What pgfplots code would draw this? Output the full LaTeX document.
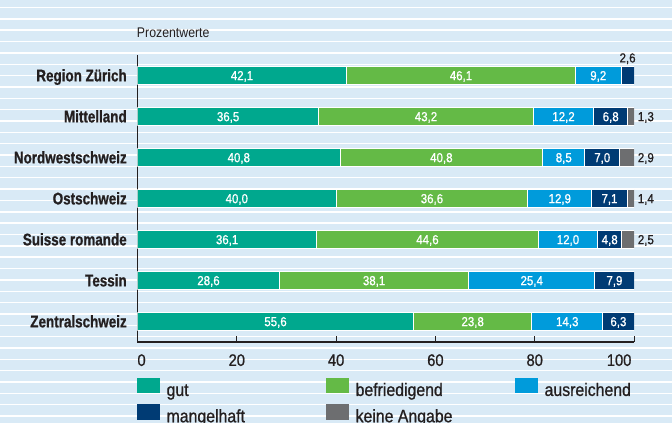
\documentclass[border=0pt]{standalone}
\usepackage{fontspec}
\setmainfont{Liberation Sans}[FakeStretch=0.88]
\newfontfamily\medfont{Liberation Sans}[FakeStretch=0.88, FakeBold=0.9]
\newfontfamily\catfont{Liberation Sans}[FakeStretch=0.8, BoldFeatures={FakeBold=0.8}]
\usepackage{pgfplots}
\pgfplotsset{compat=1.18}
\usepackage{pgfplotstable}

\definecolor{bg}{HTML}{D9EAF6}
\definecolor{ink}{HTML}{231F20}
\definecolor{cgut}{HTML}{00A88E}
\definecolor{cbef}{HTML}{64BA46}
\definecolor{caus}{HTML}{009BDB}
\definecolor{cman}{HTML}{003B74}
\definecolor{ckei}{HTML}{6D6E70}

% befl = printed label of "befriedigend" (the chart prints 36,6 on a 38,6 bar)
\pgfplotstableread{
idx gut  bef  befl aus  man kei
6   42.1 46.1 46.1 9.2  2.6 0
5   36.5 43.2 43.2 12.2 6.8 1.3
4   40.8 40.8 40.8 8.5  7.0 2.9
3   40.0 38.6 36.6 12.9 7.1 1.4
2   36.1 44.6 44.6 12.0 4.8 2.5
1   28.6 38.1 38.1 25.4 7.9 0
0   55.6 23.8 23.8 14.3 6.3 0
}\shares

% nodes near coords sit at the middle of each stacked segment
\tikzset{
  inlab/.style={anchor=base, yshift=-3.5pt, text=white,
    inner sep=0pt, font=\medfont\fontsize{9.8}{10}\selectfont},
}
\pgfplotsset{
  sq/.style={legend image code/.code={\fill[##1,draw=none] (0pt,-2pt) rectangle (17.25pt,9.75pt);}},
  seg/.style={fill=#1, draw=white, line width=0.75pt, sq},
}

\begin{document}
\begin{tikzpicture}
\useasboundingbox (0pt,0pt) rectangle (504pt,-317.25pt);
\fill[bg] (0pt,0pt) rectangle (504pt,-317.25pt);
\foreach \i in {0,...,36}{
  \fill[white] (0pt,{-(7.5+11.35*\i)*0.75pt+0.55pt}) rectangle (504pt,{-(7.5+11.35*\i)*0.75pt-0.55pt});
}
\node[anchor=base west, inner sep=0pt, text=ink, font=\fontsize{10.5}{12}\selectfont]
  at (102.5pt,-28pt) {Prozentwerte};

\begin{axis}[
  at={(103.125pt,-256.5pt)}, anchor=south west,
  x=3.724pt, y=30.75pt,
  xmin=0, xmax=100, ymin=-0.5, ymax=6.5,
  xbar stacked, bar width=13.1pt,
  axis x line*=bottom, axis y line*=left,
  axis line style={ink, line width=0.9pt},
  xtick={0,20,...,100},
  xticklabels={\makebox[0pt][l]{0},20,40,60,80,\makebox[0pt][r]{100\kern2pt}},
  xtick align=inside, major tick length=4.3pt,
  xtick style={ink, line width=0.75pt},
  ytick={0,...,6},
  yticklabels={Zentralschweiz,Tessin,Suisse romande,Ostschweiz,Nordwestschweiz,Mittelland,Region Zürich},
  ytick style={draw=none},
  tick label style={inner sep=0pt, text=ink},
  xticklabel style={font=\medfont\fontsize{12.5}{13}\selectfont, yshift=-9pt},
  yticklabel style={font=\catfont\bfseries\fontsize{12.6}{13}\selectfont, anchor=base east, xshift=-7.9pt, yshift=-4.4pt},
  /pgf/number format/.cd, use comma, fixed, fixed zerofill, precision=1, assume math mode=true,
  /pgfplots/.cd,
  legend columns=3,
  legend cell align=left,
  legend style={at={(0,0)}, anchor=north west, xshift=-0.6pt, yshift=-26.5pt,
    draw=none, fill=none, inner sep=0pt, row sep=4pt, text=ink,
    font=\medfont\fontsize{13.5}{14}\selectfont,
    nodes={inner sep=0pt, text height=10pt, text depth=2pt},
    /tikz/every odd column/.append style={column sep=5pt},
    /tikz/every even column/.append style={column sep=14.5pt}},
]
\addplot[seg=cgut,
  visualization depends on={rawx \as \val},
  nodes near coords={\pgfmathprintnumber{\val}},
  every node near coord/.style={inlab}]
  table[x=gut, y=idx] {\shares};
\addlegendentry{\makebox[105pt][l]{gut}}

\addplot[seg=cbef,
  point meta=explicit,
  nodes near coords={\pgfmathprintnumber{\pgfplotspointmeta}},
  every node near coord/.style={inlab}]
  table[x=bef, y=idx, meta=befl] {\shares};
\addlegendentry{\makebox[105pt][l]{befriedigend}}

\addplot[seg=caus,
  visualization depends on={rawx \as \val},
  nodes near coords={\pgfmathprintnumber{\val}},
  every node near coord/.style={inlab}]
  table[x=aus, y=idx] {\shares};
\addlegendentry{\makebox[105pt][l]{ausreichend}}

\addplot[seg=cman,
  visualization depends on={rawx \as \val},
  nodes near coords={\pgfmathprintnumber{\val}},
  every node near coord/.style={inlab,
    /utils/exec={\ifdim\val pt<3pt\pgfkeysalso{yshift=13.3pt,text=ink}\fi}}]
  table[x=man, y=idx] {\shares};
\addlegendentry{\makebox[105pt][l]{mangelhaft}}

\addplot[seg=ckei,
  visualization depends on={rawx \as \val},
  nodes near coords={\ifdim\val pt>0pt\pgfmathprintnumber{\val}\fi},
  every node near coord/.style={anchor=base west, xshift={\val*1.862pt+2.5pt}, yshift=-3.5pt, text=ink,
    inner sep=0pt, font=\medfont\fontsize{9.8}{10}\selectfont}]
  table[x=kei, y=idx] {\shares};
\addlegendentry{\makebox[105pt][l]{keine Angabe}}
\end{axis}
\end{tikzpicture}
\end{document}
